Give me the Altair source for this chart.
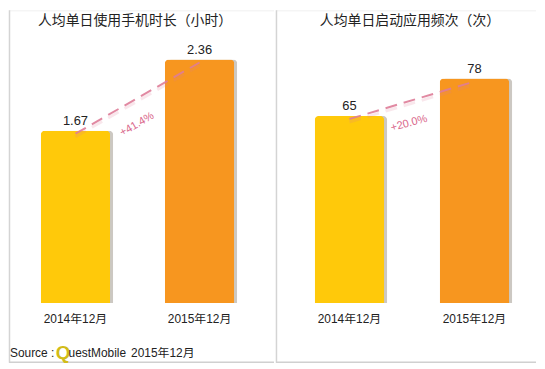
import altair as alt
import pandas as pd

# ---- data ----
categories = ["2014年12月", "2015年12月"]
usage_hours = [1.67, 2.36]
usage_labels = ["1.67", "2.36"]
app_launches = [65, 78]
launch_labels = ["65", "78"]
panel_titles = ["人均单日使用手机时长（小时）", "人均单日启动应用频次（次）"]
growth_labels = ["+41.4%", "+20.0%"]
source_parts = ["Source :", "Q", "uestMobile", "2015年12月"]

bar_colors = ["#FFC90A", "#F7961F"]
dash_color = "#DE7C98"
FONT = "Liberation Sans, Noto Sans CJK SC"
PANEL_H = 355


def panel(values, labels, title, growth, width, x_range, inner_pad, ymax,
          title_x, growth_xy, growth_angle, with_source=False):
    df = pd.DataFrame({"cat": categories, "val": values, "lab": labels})
    x = alt.X("cat:N", sort=categories, axis=None,
              scale=alt.Scale(domain=categories, range=x_range,
                              paddingInner=inner_pad, paddingOuter=0))
    y = alt.Y("val:Q", axis=None,
              scale=alt.Scale(domain=[0, ymax], range=[295, 0], nice=False, zero=True))
    base = alt.Chart(df)

    one = pd.DataFrame({"k": [0]})
    border_left = alt.Chart(one).mark_rule(color="#d4d4d4", strokeWidth=1.5).encode(
        x=alt.value(0.5), y=alt.value(0), y2=alt.value(PANEL_H))
    border_bottom = alt.Chart(one).mark_rule(color="#d0d0d0", strokeWidth=1.5).encode(
        x=alt.value(0), x2=alt.value(width), y=alt.value(PANEL_H - 0.5))
    border_top = alt.Chart(one).mark_rule(color="#f0f0f0", strokeWidth=1).encode(
        x=alt.value(0), x2=alt.value(width), y=alt.value(0.5))

    shadow = base.mark_bar(color="#8f8577", opacity=0.45, xOffset=3,
                           cornerRadiusTopLeft=4, cornerRadiusTopRight=4).encode(x=x, y=y)
    bars = base.mark_bar(cornerRadiusTopLeft=4, cornerRadiusTopRight=4).encode(
        x=x, y=y,
        color=alt.Color("cat:N", scale=alt.Scale(domain=categories, range=bar_colors),
                        legend=None))
    vals = base.mark_text(font=FONT, fontSize=13, color="#222222",
                          baseline="bottom", dy=-3).encode(x=x, y=y, text="lab:N")
    cat_labels = base.mark_text(font=FONT, fontSize=12, color="#222222",
                                baseline="middle").encode(x=x, y=alt.value(311), text="cat:N")
    line_shadow = base.mark_line(color=dash_color, strokeWidth=3, opacity=0.18,
                                 strokeDash=[12, 7], yOffset=6).encode(x=x, y=y)
    line = base.mark_line(color=dash_color, strokeWidth=2, opacity=0.9,
                          strokeDash=[12, 7], yOffset=3).encode(x=x, y=y)

    tdf = pd.DataFrame({"t": [title]})
    ttl = alt.Chart(tdf).mark_text(font="Noto Sans CJK SC", fontSize=14,
                                   color="#222222", baseline="middle").encode(
        x=alt.value(title_x), y=alt.value(11), text="t:N")
    gdf = pd.DataFrame({"g": [growth]})
    gr = alt.Chart(gdf).mark_text(font=FONT, fontSize=11, color="#D9668A",
                                  angle=growth_angle, baseline="middle").encode(
        x=alt.value(growth_xy[0]), y=alt.value(growth_xy[1]), text="g:N")

    layers = [border_top, border_left, border_bottom, shadow, bars, line_shadow, line,
              vals, cat_labels, ttl, gr]

    if with_source:
        sx = [1, 47, 60, 123]
        for i, part in enumerate(source_parts):
            sdf = pd.DataFrame({"s": [part]})
            if part == "Q":
                m = alt.Chart(sdf).mark_text(font="Liberation Sans", fontSize=19,
                                             fontWeight="bold", color="#D2BC18",
                                             align="left", baseline="middle")
            else:
                m = alt.Chart(sdf).mark_text(font=FONT, fontSize=12, color="#222222",
                                             align="left", baseline="middle")
            layers.append(m.encode(x=alt.value(sx[i]), y=alt.value(345), text="s:N"))

    return alt.layer(*layers).properties(width=width, height=PANEL_H)


left = panel(usage_hours, usage_labels, panel_titles[0], growth_labels[0],
             267, [32, 227], 0.44, 295 / 104.0, 127, (129, 115), 330, with_source=True)
right = panel(app_launches, launch_labels, panel_titles[1], growth_labels[1],
              262, [39, 235], 0.444, 295 / 2.9, 135, (134, 114), 345)

chart = alt.hconcat(left, right, spacing=0).properties(
    padding=0, background="white"
).configure_view(stroke=None, fill="white")

chart.save("out.html", embed_options={"renderer": "svg", "actions": False})
